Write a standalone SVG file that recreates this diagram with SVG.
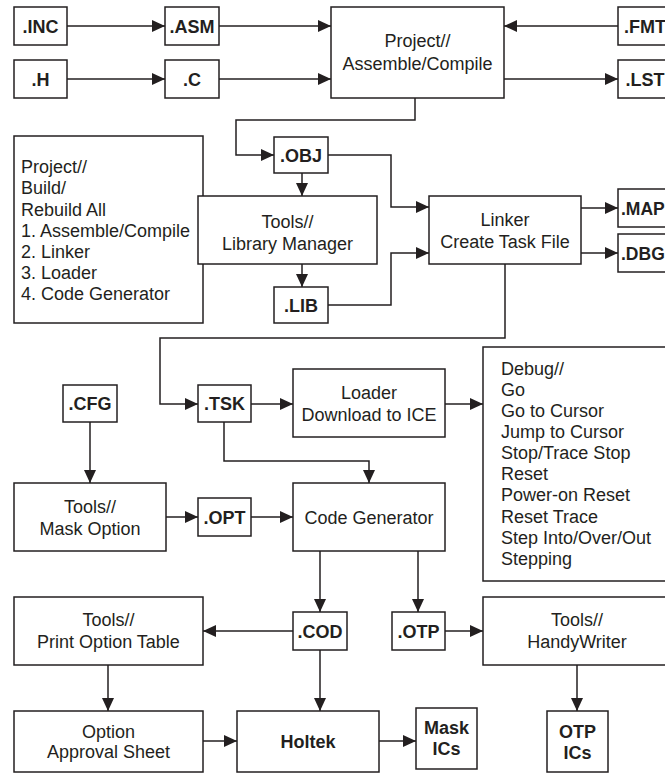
<svg xmlns="http://www.w3.org/2000/svg" width="665" height="773" viewBox="0 0 665 773">
<defs>
<marker id="ah" markerUnits="userSpaceOnUse" markerWidth="13" markerHeight="12" refX="13" refY="6" orient="auto">
<path d="M0,0 L13,6 L0,12 z" fill="#231f20"/>
</marker>
<style>
rect{fill:#fff;stroke:#231f20;stroke-width:1.5}
text{font-family:"Liberation Sans",Arial,sans-serif;font-size:18px;fill:#231f20}
.c{text-anchor:middle}
.b{font-weight:bold}
.edge{font-size:17.5px}
#connectors path{fill:none;stroke:#231f20;stroke-width:1.5;marker-end:url(#ah)}
</style>
</defs>
<rect x="0" y="0" width="665" height="773" style="stroke:none;fill:#fff"/>
<g id="connectors">
<path d="M67,26 H165"/>
<path d="M67,79 H165"/>
<path d="M219,26 H331"/>
<path d="M219,79 H331"/>
<path d="M618,26 H504"/>
<path d="M504,79 H618"/>
<path d="M415,98 V120 H236 V155 H274"/>
<path d="M328,155 H391 V207 H429"/>
<path d="M302,173 V196"/>
<path d="M302,264 V287"/>
<path d="M328,305 H391 V253 H429"/>
<path d="M581,208 H618"/>
<path d="M581,253 H618"/>
<path d="M505,264 V338 H160 V404 H198"/>
<path d="M251,404 H293"/>
<path d="M445,404 H483"/>
<path d="M224,422 V461 H369 V483"/>
<path d="M90,422 V483"/>
<path d="M166,517 H198"/>
<path d="M251,517 H293"/>
<path d="M320,551 V612"/>
<path d="M418,551 V612"/>
<path d="M293,631 H203"/>
<path d="M445,631 H483"/>
<path d="M108,665 V711"/>
<path d="M320,650 V711"/>
<path d="M203,741 H237"/>
<path d="M379,741 H416"/>
<path d="M577,665 V711"/>
</g>
<g id="inc"><rect x="14" y="7" width="53" height="38"/><text class="c b" x="40.5" y="32.5">.INC</text></g>
<g id="asm"><rect x="165" y="7" width="54" height="38"/><text class="c b" x="192" y="32.5">.ASM</text></g>
<g id="h"><rect x="14" y="60" width="53" height="38"/><text class="c b" x="40.5" y="85.5">.H</text></g>
<g id="c"><rect x="165" y="60" width="54" height="38"/><text class="c b" x="192" y="85.5">.C</text></g>
<g id="project"><rect x="331" y="7" width="173" height="91"/><text class="c" x="417.5" y="47">Project//</text><text class="c" x="417.5" y="70">Assemble/Compile</text></g>
<g id="fmt"><rect x="618" y="7" width="54" height="38"/><text class="c b" x="645" y="32.5">.FMT</text></g>
<g id="lst"><rect x="618" y="60" width="54" height="38"/><text class="c b" x="645" y="85.5">.LST</text></g>
<g id="build"><rect x="14" y="136" width="189" height="187"/>
<text x="21" y="173">Project//</text>
<text x="21" y="194">Build/</text>
<text x="21" y="215.5">Rebuild All</text>
<text x="21" y="236.5">1. Assemble/Compile</text>
<text x="21" y="258">2. Linker</text>
<text x="21" y="279">3. Loader</text>
<text x="21" y="300">4. Code Generator</text>
</g>
<g id="obj"><rect x="274" y="137" width="54" height="36"/><text class="c b" x="301" y="161.5">.OBJ</text></g>
<g id="libmgr"><rect x="198" y="196" width="179" height="68"/><text class="c" x="287.5" y="228">Tools//</text><text class="c" x="287.5" y="250">Library Manager</text></g>
<g id="lib"><rect x="274" y="287" width="54" height="36"/><text class="c b" x="301" y="311.5">.LIB</text></g>
<g id="linker"><rect x="429" y="196" width="152" height="68"/><text class="c" x="505" y="226">Linker</text><text class="c" x="505" y="248">Create Task File</text></g>
<g id="map"><rect x="618" y="189" width="54" height="38"/><text class="b edge" x="621" y="214.5">.MAP</text></g>
<g id="dbg"><rect x="618" y="234" width="54" height="38"/><text class="b edge" x="621" y="259.5">.DBG</text></g>
<g id="cfg"><rect x="63" y="385" width="54" height="37"/><text class="c b" x="90" y="410">.CFG</text></g>
<g id="tsk"><rect x="198" y="385" width="53" height="37"/><text class="c b" x="224.5" y="410">.TSK</text></g>
<g id="loader"><rect x="293" y="369" width="152" height="68"/><text class="c" x="369" y="399">Loader</text><text class="c" x="369" y="421">Download to ICE</text></g>
<g id="debug"><rect x="483" y="347" width="190" height="234"/>
<text x="501" y="375">Debug//</text>
<text x="501" y="396">Go</text>
<text x="501" y="417">Go to Cursor</text>
<text x="501" y="438">Jump to Cursor</text>
<text x="501" y="459">Stop/Trace Stop</text>
<text x="501" y="480">Reset</text>
<text x="501" y="501">Power-on Reset</text>
<text x="501" y="523">Reset Trace</text>
<text x="501" y="544">Step Into/Over/Out</text>
<text x="501" y="565">Stepping</text>
</g>
<g id="maskopt"><rect x="14" y="483" width="152" height="68"/><text class="c" x="90" y="513">Tools//</text><text class="c" x="90" y="535">Mask Option</text></g>
<g id="opt"><rect x="198" y="498" width="53" height="38"/><text class="c b" x="224.5" y="523.5">.OPT</text></g>
<g id="codegen"><rect x="293" y="483" width="152" height="68"/><text class="c" x="369" y="523.5">Code Generator</text></g>
<g id="pot"><rect x="14" y="597" width="189" height="68"/><text class="c" x="108.5" y="626">Tools//</text><text class="c" x="108.5" y="648">Print Option Table</text></g>
<g id="cod"><rect x="293" y="612" width="54" height="38"/><text class="c b" x="320" y="637.5">.COD</text></g>
<g id="otp"><rect x="392" y="612" width="53" height="38"/><text class="c b" x="418.5" y="637.5">.OTP</text></g>
<g id="hw"><rect x="483" y="597" width="190" height="68"/><text class="c" x="577" y="626">Tools//</text><text class="c" x="577" y="648">HandyWriter</text></g>
<g id="oas"><rect x="14" y="711" width="189" height="61"/><text class="c" x="108.5" y="738">Option</text><text class="c" x="108.5" y="758">Approval Sheet</text></g>
<g id="holtek"><rect x="237" y="711" width="142" height="61"/><text class="c b" x="308" y="748">Holtek</text></g>
<g id="maskics"><rect x="416" y="708" width="61" height="61"/><text class="c b" x="446.5" y="734">Mask</text><text class="c b" x="446.5" y="755">ICs</text></g>
<g id="otpics"><rect x="547" y="711" width="61" height="61"/><text class="c b" x="577.5" y="738">OTP</text><text class="c b" x="577.5" y="759">ICs</text></g>
</svg>
